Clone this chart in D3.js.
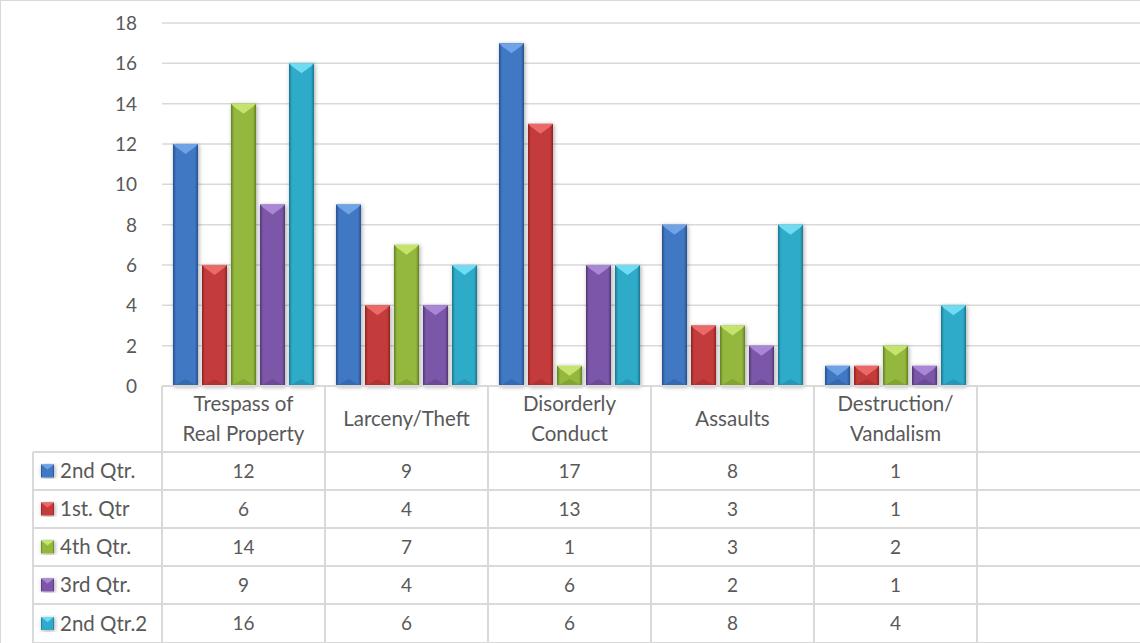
<!DOCTYPE html>
<html>
<head>
<meta charset="utf-8">
<script src="https://cdn.jsdelivr.net/npm/d3@7"></script>
<style>
  html, body { margin: 0; padding: 0; background: #fff; }
  svg { display: block; font-family: Lato, "Noto Sans", sans-serif; }
</style>
</head>
<body>
<div id="chart"></div>
<script>
const width = 1140;
const height = 643;

// categories (last slot is an empty category, as in the source sheet)
const categories = ["Trespass of\nReal Property", "Larceny/Theft", "Disorderly\nConduct", "Assaults", "Destruction/\nVandalism", ""];
const seriesNames = ["2nd Qtr.", "1st. Qtr", "4th Qtr.", "3rd Qtr.", "2nd Qtr.2"];
const qtr2 = [12, 9, 17, 8, 1];
const qtr1 = [6, 4, 13, 3, 1];
const qtr4 = [14, 7, 1, 3, 2];
const qtr3 = [9, 4, 6, 2, 1];
const qtr2b = [16, 6, 6, 8, 4];
const yTicks = [0, 2, 4, 6, 8, 10, 12, 14, 16, 18];

const seriesValues = [qtr2, qtr1, qtr4, qtr3, qtr2b];
const colors = [
    { base: "#3f78c3", dark: "#25508e", light: "#6fa2e6" },
    { base: "#c43b3a", dark: "#8e2322", light: "#ea6b6a" },
    { base: "#93b83c", dark: "#627f22", light: "#c6e36e" },
    { base: "#7b57a8", dark: "#513673", light: "#a987d6" },
    { base: "#2fabc9", dark: "#1a7590", light: "#6fdcf2" }
];

const plotLeft = 162, plotRight = 1140;
const plotTop = 23, plotBottom = 386;
const tableLeft = 33;
const rowLines = [386, 452, 490, 528, 566, 604, 643];
const textSize = "20.5px";
const numSize = "19px";

const svg = d3.select("#chart")
    .append("svg")
    .attr("width", width)
    .attr("height", height);

const defs = svg.append("defs");

colors.forEach((c, i) => {
    const g = defs.append("linearGradient")
        .attr("id", "grad" + i)
        .attr("x1", "0").attr("x2", "1").attr("y1", "0").attr("y2", "0");
    g.append("stop").attr("offset", "0").attr("stop-color", c.dark);
    g.append("stop").attr("offset", "0.12").attr("stop-color", c.base);
    g.append("stop").attr("offset", "0.5").attr("stop-color", c.base);
    g.append("stop").attr("offset", "0.88").attr("stop-color", c.base);
    g.append("stop").attr("offset", "1").attr("stop-color", c.dark);
});

const shadow = defs.append("filter")
    .attr("id", "shadow")
    .attr("x", "-30%").attr("y", "-10%").attr("width", "160%").attr("height", "120%");
shadow.append("feDropShadow")
    .attr("dx", 1).attr("dy", 1).attr("stdDeviation", 2)
    .attr("flood-color", "#000").attr("flood-opacity", 0.35);

// chart border
svg.append("rect")
    .attr("x", 0.5).attr("y", 0.5)
    .attr("width", width + 10).attr("height", height + 10)
    .attr("fill", "none").attr("stroke", "#d9d9d9");

const y = d3.scaleLinear().domain([0, 18]).range([plotBottom, plotTop]);

const x0 = d3.scaleBand()
    .domain(d3.range(categories.length))
    .range([plotLeft, plotRight]);

const x1 = d3.scaleBand()
    .domain(d3.range(seriesNames.length))
    .range([11, x0.bandwidth() - 11])
    .paddingInner(4 / 29);

// gridlines
svg.append("g")
    .selectAll("line")
    .data(yTicks.filter(d => d > 0))
    .enter().append("line")
    .attr("x1", plotLeft).attr("x2", plotRight)
    .attr("y1", d => y(d)).attr("y2", d => y(d))
    .attr("stroke", "#d9d9d9").attr("stroke-width", 1.5);

// y tick labels
svg.append("g")
    .selectAll("text")
    .data(yTicks)
    .enter().append("text")
    .attr("x", 137)
    .attr("y", d => y(d))
    .attr("dy", "0.36em")
    .attr("text-anchor", "end")
    .attr("fill", "#595959")
    .style("font-size", numSize)
    .text(d => d);

// bars
const barData = [];
seriesValues.forEach((vals, s) => {
    vals.forEach((v, c) => barData.push({ s, c, v }));
});

const bars = svg.append("g")
    .selectAll("g")
    .data(barData)
    .enter().append("g")
    .attr("transform", d => `translate(${x0(d.c) + x1(d.s)},0)`)
    .attr("filter", "url(#shadow)");

const bw = x1.bandwidth();

bars.append("rect")
    .attr("x", 0)
    .attr("y", d => y(d.v))
    .attr("width", bw)
    .attr("height", d => y(0) - y(d.v))
    .attr("fill", d => `url(#grad${d.s})`);

// bevel top
bars.append("path")
    .attr("d", d => {
        const t = y(d.v), h = Math.min(10, (y(0) - y(d.v)) / 2);
        return `M0,${t} L${bw},${t} L${bw - 3},${t + 3} L${bw / 2},${t + h} L3,${t + 3} Z`;
    })
    .attr("fill", d => colors[d.s].light);

// bevel bottom
bars.append("path")
    .attr("d", d => {
        const b = y(0), h = Math.min(7, (y(0) - y(d.v)) / 2);
        return `M0,${b} L${bw},${b} L${bw / 2},${b - h} Z`;
    })
    .attr("fill", d => colors[d.s].dark)
    .attr("opacity", 0.35);

// data table
const table = svg.append("g");

// horizontal lines
rowLines.forEach((ry, i) => {
    table.append("line")
        .attr("x1", i === 0 ? plotLeft : tableLeft)
        .attr("x2", plotRight)
        .attr("y1", ry).attr("y2", ry)
        .attr("stroke", "#d9d9d9").attr("stroke-width", 2);
});
// left border of legend column
table.append("line")
    .attr("x1", tableLeft).attr("x2", tableLeft)
    .attr("y1", rowLines[1]).attr("y2", height)
    .attr("stroke", "#d9d9d9").attr("stroke-width", 2);
// vertical column lines
table.selectAll(".col")
    .data(d3.range(categories.length))
    .enter().append("line")
    .attr("x1", d => x0(d)).attr("x2", d => x0(d))
    .attr("y1", plotBottom).attr("y2", height)
    .attr("stroke", "#d9d9d9").attr("stroke-width", 2);

// category headers
const headers = table.selectAll(".hdr")
    .data(categories)
    .enter().append("text")
    .attr("text-anchor", "middle")
    .attr("fill", "#595959")
    .style("font-size", textSize);

headers.each(function (d, i) {
    const lines = d.split("\n");
    const cx = x0(i) + x0.bandwidth() / 2;
    const mid = (rowLines[0] + rowLines[1]) / 2;
    lines.forEach((ln, k) => {
        d3.select(this).append("tspan")
            .attr("x", cx)
            .attr("y", mid + (k - (lines.length - 1) / 2) * 30)
            .attr("dy", "0.36em")
            .text(ln);
    });
});

// rows
seriesNames.forEach((name, s) => {
    const cy = (rowLines[s + 1] + rowLines[s + 2]) / 2;
    const key = table.append("g")
        .attr("transform", `translate(41,${cy - 6.5})`)
        .attr("filter", "url(#shadow)");
    key.append("rect")
        .attr("width", 13).attr("height", 13)
        .attr("fill", `url(#grad${s})`);
    key.append("path")
        .attr("d", "M0,0 L13,0 L6.5,5 Z")
        .attr("fill", colors[s].light);

    table.append("text")
        .attr("x", 60).attr("y", cy)
        .attr("dy", "0.36em")
        .attr("fill", "#595959")
        .style("font-size", textSize)
        .text(name);

    table.append("g")
        .selectAll("text")
        .data(seriesValues[s])
        .enter().append("text")
        .attr("x", (d, c) => x0(c) + x0.bandwidth() / 2)
        .attr("y", cy)
        .attr("dy", "0.36em")
        .attr("text-anchor", "middle")
        .attr("fill", "#595959")
        .style("font-size", numSize)
        .text(d => d);
});
</script>
</body>
</html>
